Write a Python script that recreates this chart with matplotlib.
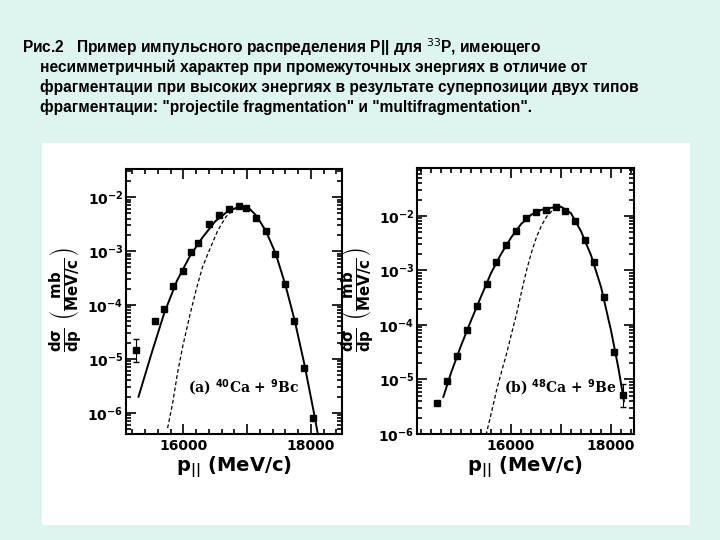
import numpy as np
import matplotlib.pyplot as plt
from matplotlib.ticker import FixedLocator, MultipleLocator, LogLocator, NullFormatter

# --- panel (a) 40Ca + 9Be: data points (p, log10 dsigma/dp) ---
pa_x = [15255, 15548, 15700, 15843, 15990, 16121, 16226, 16410, 16567, 16714, 16866,
        16976, 17145, 17291, 17444, 17590, 17737, 17890, 18036]
pa_y = [-4.83, -4.30, -4.08, -3.64, -3.37, -3.02, -2.86, -2.49, -2.33, -2.22, -2.17,
        -2.20, -2.38, -2.63, -3.06, -3.62, -4.30, -5.17, -6.10]
fa_x = [15296, 15500, 15700, 15900, 16100, 16300, 16500, 16700, 16900, 17000, 17150,
        17300, 17450, 17600, 17750, 17900, 18050, 18120]
fa_y = [-5.70, -4.90, -4.15, -3.55, -3.10, -2.75, -2.45, -2.26, -2.17, -2.17, -2.35,
        -2.64, -3.05, -3.62, -4.30, -5.10, -6.00, -6.45]
da_x = [15753, 15832, 15910, 15990, 16100, 16200, 16300, 16410, 16540, 16672, 16800,
        16900, 17000]
da_y = [-6.28, -5.82, -5.25, -4.77, -4.20, -3.72, -3.30, -2.98, -2.62, -2.36, -2.22,
        -2.17, -2.17]

# --- panel (b) 48Ca + 9Be ---
pb_x = [14527, 14727, 14927, 15113, 15313, 15513, 15693, 15893, 16093, 16293, 16493,
        16693, 16893, 17080, 17280, 17480, 17667, 17867, 18067, 18247]
pb_y = [-5.44, -5.02, -4.56, -4.09, -3.65, -3.24, -2.85, -2.53, -2.27, -2.04, -1.92,
        -1.89, -1.83, -1.90, -2.09, -2.44, -2.84, -3.48, -4.49, -5.28]
fb_x = [14647, 14800, 15000, 15200, 15400, 15600, 15800, 16000, 16200, 16400, 16600,
        16800, 17000, 17200, 17400, 17600, 17800, 18000, 18150, 18260]
fb_y = [-5.32, -4.88, -4.38, -3.92, -3.48, -3.05, -2.70, -2.40, -2.15, -1.98, -1.89,
        -1.85, -1.83, -1.95, -2.28, -2.72, -3.30, -4.10, -4.80, -5.40]
db_x = [15500, 15610, 15713, 15813, 15913, 16013, 16113, 16213, 16313, 16413, 16513,
        16613, 16713, 16850, 17000]
db_y = [-6.02, -5.60, -5.19, -4.85, -4.52, -4.15, -3.79, -3.38, -2.99, -2.66, -2.38,
        -2.17, -2.01, -1.88, -1.83]

caption = ["Рис.2   Пример импульсного распределения P|| для $^{33}$P, имеющего",
           "несимметричный характер при промежуточных энергиях в отличие от",
           "фрагментации при высоких энергиях в результате суперпозиции двух типов",
           "фрагментации: \"projectile fragmentation\" и \"multifragmentation\"."]

fig = plt.figure(figsize=(7.2, 5.4), dpi=100)
fig.patch.set_facecolor('#ddf4ef')

# caption
for i, line in enumerate(caption):
    fig.text((22 if i == 0 else 40) / 720, 1 - (47 + i * 20) / 540, line,
             fontsize=11.2, fontweight='bold', family='Liberation Sans',
             va='center', ha='left')

# white picture area
bg = fig.add_axes([42 / 720, 1 - 525 / 540, 648 / 720, 382 / 540])
bg.set_facecolor('white')
bg.set_xticks([]); bg.set_yticks([])
for s in bg.spines.values():
    s.set_visible(False)

ylab = r'$\mathbf{\frac{d\sigma}{dp}}\ \left(\mathbf{\frac{mb}{MeV/c}}\right)$'

def panel(rect, px, py, fx, fy, dx, dy, xlim, ylim, label, lab_xy, ylab_x, err_idx):
    ax = fig.add_axes(rect)
    ax.set_yscale('log')
    ax.plot(np.array(fx), 10.0 ** np.array(fy), 'k-', lw=1.4)
    ax.plot(np.array(dx), 10.0 ** np.array(dy), 'k--', lw=0.9, dashes=(3, 2))
    ax.plot(px, 10.0 ** np.array(py), 'ks', ms=5)
    ye = 10.0 ** py[err_idx]
    ax.errorbar([px[err_idx]], [ye], yerr=[[ye * 0.4], [ye * 0.6]], fmt='none',
                ecolor='k', lw=0.8, capsize=2)
    ax.set_xlim(*xlim)
    ax.set_ylim(10.0 ** ylim[0], 10.0 ** ylim[1])
    ax.xaxis.set_major_locator(FixedLocator([16000, 17000, 18000]))
    ax.set_xticklabels(['16000', '', '18000'])
    ax.xaxis.set_minor_locator(MultipleLocator(200))
    ax.yaxis.set_major_locator(FixedLocator([1e-6, 1e-5, 1e-4, 1e-3, 1e-2]))
    ax.set_yticklabels([r'$\mathbf{10^{-6}}$', r'$\mathbf{10^{-5}}$', r'$\mathbf{10^{-4}}$',
                        r'$\mathbf{10^{-3}}$', r'$\mathbf{10^{-2}}$'])
    ax.yaxis.set_minor_locator(LogLocator(base=10, subs=np.arange(2, 10)))
    ax.yaxis.set_minor_formatter(NullFormatter())
    ax.tick_params(which='both', direction='in', top=True, right=True, width=1.2)
    ax.tick_params(which='major', length=7, labelsize=10)
    ax.tick_params(axis='y', which='major', pad=2)
    ax.tick_params(which='minor', length=3.5)
    for lbl in ax.get_xticklabels():
        lbl.set_fontweight('bold')
    for s in ax.spines.values():
        s.set_linewidth(1.5)
    ax.text(lab_xy[0], lab_xy[1], label, transform=fig.transFigure, family='DejaVu Serif',
            fontsize=10, fontweight='bold', va='center', ha='left')
    fig.text(ylab_x, 1 - 300 / 540, ylab, rotation=90, fontsize=15.5, va='center', ha='center')
    fig.text(rect[0] + rect[2] / 2, 1 - 467 / 540, r'$\mathbf{p_{||}}$ (MeV/c)',
             fontsize=14, fontweight='bold', ha='center', va='center')
    return ax

panel([126 / 720, 1 - 434 / 540, 216 / 720, 265 / 540], pa_x, pa_y, fa_x, fa_y, da_x, da_y,
      (15100, 18490), (-6.39, -1.48), r'(a) $^{\mathbf{40}}$Ca + $^{\mathbf{9}}$Bc',
      (188 / 720, 1 - 388 / 540), 66 / 720, 0)
panel([417 / 720, 1 - 434 / 540, 217 / 720, 266 / 540], pb_x, pb_y, fb_x, fb_y, db_x, db_y,
      (14120, 18460), (-6.0, -1.12), r'(b) $^{\mathbf{48}}$Ca + $^{\mathbf{9}}$Be',
      (504 / 720, 1 - 388 / 540), 358 / 720, len(pb_x) - 1)

fig.savefig('out.png', dpi=100, facecolor=fig.get_facecolor())
